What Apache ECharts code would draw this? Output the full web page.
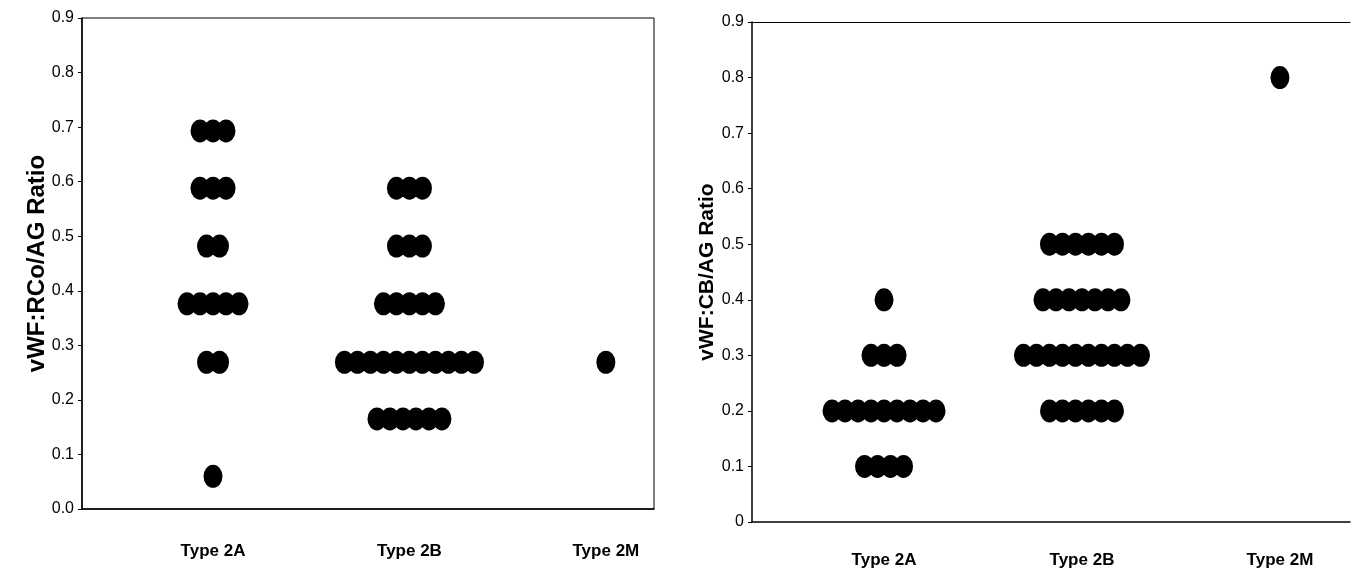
<!DOCTYPE html>
<html>
<head>
<meta charset="utf-8">
<script src="https://cdn.jsdelivr.net/npm/echarts@6/dist/echarts.min.js"></script>
<style>
html,body{margin:0;padding:0;background:#fff;}
#c{width:1356px;height:585px;}
</style>
</head>
<body>
<div id="c"></div>
<script>
// ---- data ----
const categories = ['Type 2A', 'Type 2B', 'Type 2M'];
const leftTitle = 'vWF:RCo/AG Ratio';
const rightTitle = 'vWF:CB/AG Ratio';

// vWF:RCo/AG (left panel) – values as positioned in the picture
const rcoType2A = [0.693,0.693,0.693, 0.588,0.588,0.588, 0.482,0.482,
  0.376,0.376,0.376,0.376,0.376, 0.269,0.269, 0.060];
const rcoType2B = [0.588,0.588,0.588, 0.482,0.482,0.482,
  0.376,0.376,0.376,0.376,0.376,
  0.269,0.269,0.269,0.269,0.269,0.269,0.269,0.269,0.269,0.269,0.269,
  0.165,0.165,0.165,0.165,0.165,0.165];
const rcoType2M = [0.269];

// vWF:CB/AG (right panel)
const cbType2A = [0.4, 0.3,0.3,0.3,
  0.2,0.2,0.2,0.2,0.2,0.2,0.2,0.2,0.2,
  0.1,0.1,0.1,0.1];
const cbType2B = [0.5,0.5,0.5,0.5,0.5,0.5,
  0.4,0.4,0.4,0.4,0.4,0.4,0.4,
  0.3,0.3,0.3,0.3,0.3,0.3,0.3,0.3,0.3,0.3,
  0.2,0.2,0.2,0.2,0.2,0.2];
const cbType2M = [0.8];

// ---- build ----
const DOT_STEP = 13; // horizontal px between stacked dots
function dotData(groups) {
  const out = [];
  groups.forEach((vals, gi) => {
    const counts = {};
    vals.forEach(v => { counts[v] = (counts[v] || 0) + 1; });
    const seen = {};
    vals.forEach(v => {
      const n = counts[v];
      const i = seen[v] || 0; seen[v] = i + 1;
      out.push({ value: [gi + 1, v], symbolOffset: [(i - (n - 1) / 2) * DOT_STEP, 0] });
    });
  });
  return out;
}

const FONT = '"Liberation Sans", Arial, sans-serif';

function xAxisCfg(gridIndex, min, max, margin) {
  return {
    type: 'value', gridIndex, min, max,
    axisLine: { show: true, onZero: false, lineStyle: { color: '#000', width: 1.5 } },
    axisTick: { show: false },
    splitLine: { show: false },
    axisLabel: {
      customValues: [1, 2, 3],
      formatter: v => categories[Math.round(v) - 1] || '',
      color: '#000', fontFamily: FONT, fontWeight: 'bold', fontSize: 17, margin
    }
  };
}
function yAxisCfg(gridIndex, name, nameSize, nameGap, fmt) {
  return {
    type: 'value', gridIndex, min: 0, max: 0.9, interval: 0.1,
    name, nameLocation: 'middle', nameGap, nameMoveOverlap: false,
    nameTextStyle: { color: '#000', fontFamily: FONT, fontWeight: 'bold', fontSize: nameSize },
    axisLine: { show: true, onZero: false, lineStyle: { color: '#000', width: 1.5 } },
    axisTick: { show: true, inside: false, length: 4, lineStyle: { color: '#000' } },
    splitLine: { show: false },
    axisLabel: { color: '#000', fontFamily: FONT, fontSize: 16, margin: 8, formatter: fmt }
  };
}

const chart = echarts.init(document.getElementById('c'), null, { renderer: 'canvas' });
chart.setOption({
  animation: false,
  backgroundColor: '#fff',
  grid: [
    { left: 82, top: 18, width: 572, height: 491, show: true, borderColor: '#000', borderWidth: 1, backgroundColor: 'transparent' },
    { left: 752, top: 22, width: 598, height: 500 }
  ],
  xAxis: [
    xAxisCfg(0, 0.333, 3.245, 34),
    xAxisCfg(1, 0.333, 3.354, 30),
    { type: 'value', gridIndex: 1, position: 'top', min: 0.333, max: 3.354,
      axisLine: { show: true, onZero: false, lineStyle: { color: '#000', width: 1 } },
      axisTick: { show: false }, axisLabel: { show: false }, splitLine: { show: false } }
  ],
  yAxis: [
    yAxisCfg(0, leftTitle, 24, 33, v => v.toFixed(1)),
    yAxisCfg(1, rightTitle, 21, 34, v => (v === 0 ? '0' : v.toFixed(1)))
  ],
  series: [
    { type: 'scatter', xAxisIndex: 0, yAxisIndex: 0, symbol: 'circle', symbolSize: [19, 23],
      itemStyle: { color: '#000', opacity: 1 }, data: dotData([rcoType2A, rcoType2B, rcoType2M]) },
    { type: 'scatter', xAxisIndex: 1, yAxisIndex: 1, symbol: 'circle', symbolSize: [19, 23],
      itemStyle: { color: '#000', opacity: 1 }, data: dotData([cbType2A, cbType2B, cbType2M]) }
  ]
});
</script>
</body>
</html>
